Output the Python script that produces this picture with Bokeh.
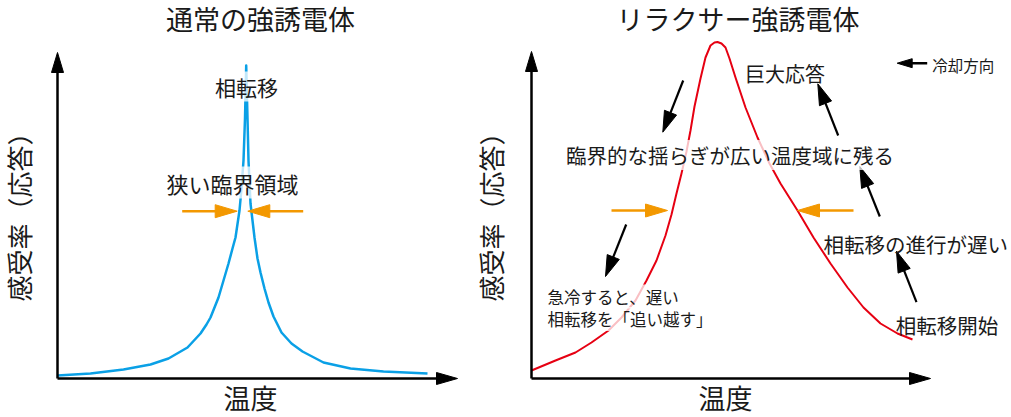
import numpy as np
from bokeh.plotting import figure
from bokeh.layouts import row
from bokeh.models import Range1d, Label
from bokeh.embed import file_html
from bokeh.resources import INLINE

FONT = "Noto Sans CJK JP"
TEXT_COLOR = "#1a1a1a"
BLUE = "#0aa0e6"
RED = "#e60012"
ORANGE = "#f39800"

# ---- data (temperature vs susceptibility, arbitrary units) ----
# normal ferroelectric: sharp divergence at the transition
normal_temp = [0, 33, 66, 93, 111, 130, 143, 149, 153, 161, 166, 171, 175, 178, 182, 184, 186,
               187.5, 188.7, 190, 191, 193, 195, 197, 200, 203, 207, 211, 216, 224, 234,
               245, 266, 293, 326, 370]
normal_chi = [3, 5, 9, 14, 20, 31, 45, 54, 61, 81, 98, 115, 130, 141, 168, 190, 218,
              260, 313, 260, 218, 175, 158, 141, 120, 106, 90, 76, 62, 46, 35,
              27, 16, 10, 7, 5]

# relaxor ferroelectric: broad, rounded maximum
relaxor_temp = [0, 24, 44, 60, 77, 90, 104, 115, 125, 134, 140, 145, 150, 155, 159, 163,
                169, 174, 179, 183, 186, 190, 194, 198, 204, 214, 226, 238, 249, 266,
                282, 299, 316, 332, 349, 366, 381]
relaxor_chi = [8, 18, 26, 36, 48, 61, 78, 98, 118, 143, 164, 185, 205, 227, 248, 272,
               300, 321, 333, 336, 336.5, 335, 331, 320, 301, 271, 241, 215, 195, 168,
               141, 115, 91, 71, 55, 45, 39]

# annotation arrows (x0, y0, x1, y1) in the same units
normal_width_arrows = [(124.7, 167.3, 179.7, 167.3), (245.7, 167.3, 190.3, 167.3)]
relaxor_width_arrows = [(80, 168, 136, 168), (322, 168, 266, 168)]
cooling_down_arrows = [(151.7, 298, 131.3, 246.3), (94.7, 154, 74, 102)]
cooling_up_arrows = [(306.7, 243, 286.3, 294.7), (348.3, 162, 328.3, 212), (385, 76.3, 365, 127.3)]
direction_arrow = (395.7, 315.3, 365.7, 315.3)


def make_panel(width, x0, x1):
    p = figure(width=width, height=417, x_range=Range1d(x0, x1), y_range=Range1d(-39, 378),
               output_backend="svg", toolbar_location=None, title=None,
               x_axis_location=None, y_axis_location=None, min_border=0)
    p.grid.visible = False
    p.outline_line_color = None
    p.background_fill_color = "white"
    return p


def arrow(p, x0, y0, x1, y1, color, lw, head_len, head_w):
    L = np.hypot(x1 - x0, y1 - y0)
    ux, uy = (x1 - x0) / L, (y1 - y0) / L
    bx, by = x1 - ux * head_len, y1 - uy * head_len
    p.line([x0, bx + ux], [y0, by + uy], line_color=color, line_width=lw)
    p.patch([x1, bx - uy * head_w / 2, bx + uy * head_w / 2],
            [y1, by + ux * head_w / 2, by - ux * head_w / 2],
            fill_color=color, line_color=color, line_width=1)


def add_text(p, x, y, txt, size, align="center", angle=0.0, bg=False):
    lab = Label(x=x, y=y, text=txt, text_font=FONT, text_font_size=f"{size}px",
                text_align=align, text_baseline="middle", angle=angle, text_color=TEXT_COLOR)
    if bg:
        lab.background_fill_color = "white"
        lab.background_fill_alpha = 0.75
    p.add_layout(lab)


def axes(p, xtip, ytip):
    arrow(p, 0, 0, xtip, 0, "black", 2.5, 21, 12)
    arrow(p, 0, 0, 0, ytip, "black", 2.5, 20, 12)


# left: normal ferroelectric
left = make_panel(470, -57, 413)
left.line(normal_temp, normal_chi, line_color=BLUE, line_width=2.5, line_join="round")
axes(left, 400, 326)
for a in normal_width_arrows:
    arrow(left, *a, ORANGE, 2.5, 22, 13)
add_text(left, 203, 360, "通常の強誘電体", 27)
add_text(left, 189, 292, "相転移", 21, bg=True)
add_text(left, 175, 196, "狭い臨界領域", 22, bg=True)
add_text(left, -39.5, 168, "感受率（応答）", 26, angle=np.pi / 2)
add_text(left, 193, -18.5, "温度", 27)

# right: relaxor ferroelectric
right = make_panel(541, -61, 480)
right.line(relaxor_temp, relaxor_chi, line_color=RED, line_width=2, line_join="round")
axes(right, 399, 327)
for a in relaxor_width_arrows:
    arrow(right, *a, ORANGE, 2.5, 22, 13)
for a in cooling_down_arrows + cooling_up_arrows:
    arrow(right, *a, "black", 2.2, 21, 13)
arrow(right, *direction_arrow, "black", 2.5, 15, 9)
add_text(right, 206.5, 360, "リラクサー強誘電体", 27)
add_text(right, 253.5, 305, "巨大応答", 20)
add_text(right, 400.7, 314, "冷却方向", 15.5, align="left")
add_text(right, 198.5, 223.5, "臨界的な揺らぎが広い温度域に残る", 20.5, bg=True)
add_text(right, 292, 135, "相転移の進行が遅い", 20.5, align="left")
add_text(right, 16, 82, "急冷すると、遅い", 16.5, align="left", bg=True)
add_text(right, 16, 59.5, "相転移を「追い越す」", 16.5, align="left", bg=True)
add_text(right, 415.5, 54, "相転移開始", 20.5)
add_text(right, -41, 168, "感受率（応答）", 26, angle=np.pi / 2)
add_text(right, 194, -18.5, "温度", 27)

page = row(left, right)
open("out.html", "w").write(file_html(page, INLINE))
